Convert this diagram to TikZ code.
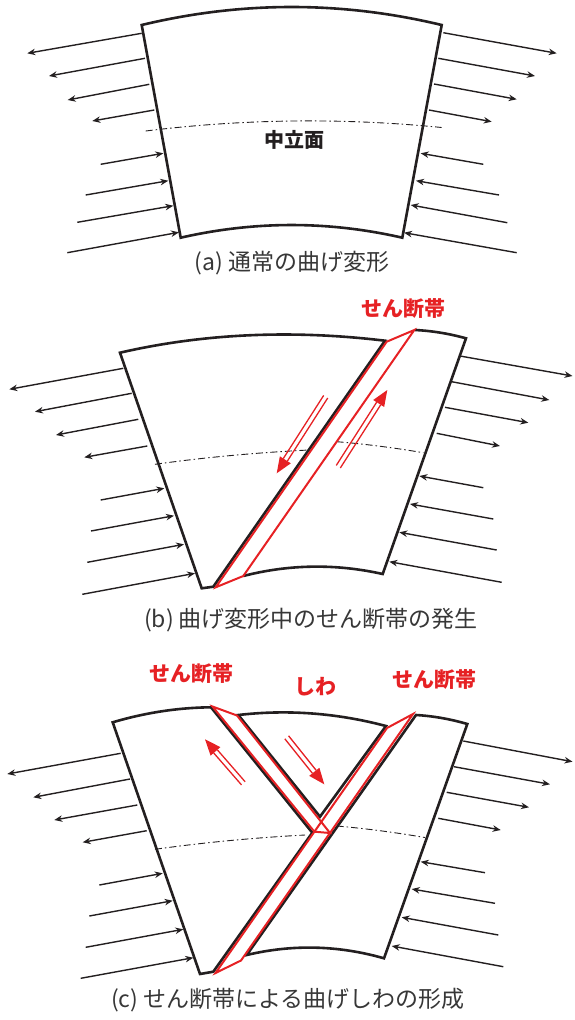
\documentclass[tikz,border=0pt]{standalone}
\usepackage{fontspec}
\setmainfont{Noto Sans CJK JP}
\usetikzlibrary{arrows.meta,calc}
\definecolor{inkblack}{RGB}{35,31,32}
\definecolor{bandred}{RGB}{230,33,36}
\definecolor{captiongray}{RGB}{55,55,55}

\tikzset{
  outline/.style={draw=inkblack, line width=2.6pt, line join=miter},
  force/.style={draw=inkblack, line width=1.4pt, -{Stealth[length=8pt,width=6.5pt]}},
  neutral/.style={draw=inkblack, line width=0.9pt, dash pattern=on 7pt off 3pt on 1.5pt off 3pt},
  band/.style={draw=bandred, line width=2pt, line join=miter},
  redlabel/.style={text=bandred, inner sep=0pt, font=\fontsize{21}{21}\selectfont\bfseries},
  planelabel/.style={text=inkblack, inner sep=0pt, font=\fontsize{20}{20}\selectfont\bfseries},
  caption/.style={text=captiongray, inner sep=0pt, font=\fontsize{23}{23}\selectfont},
}

% slip arrow: double red shaft with a filled head; #1 = tail, #2 = tip
\newcommand\slipArrow[2]{%
  \coordinate (sa-base) at ($(#2)!16pt!(#1)$);
  \fill[bandred] (#2) -- ($(sa-base)!6.5pt!90:(#2)$) -- ($(sa-base)!6.5pt!-90:(#2)$) -- cycle;
  \draw[bandred, line width=1.3pt] ($(#1)!2.4pt!90:(#2)$) -- ($(sa-base)!2.4pt!-90:(#1)$);
  \draw[bandred, line width=1.3pt] ($(#1)!2.4pt!-90:(#2)$) -- ($(sa-base)!2.4pt!90:(#1)$);
}

\begin{document}
\begin{tikzpicture}[x=1pt,y=-1pt]
\useasboundingbox (0,0) rectangle (574,1020);

% ---------------- (a) ordinary bending ----------------
\coordinate (a-tl) at (141.7,25);
\coordinate (a-tr) at (441.7,25);
\coordinate (a-br) at (402.3,237.7);
\coordinate (a-bl) at (180.7,237.7);
\draw[outline] (a-tl) .. controls (241.7,1) and (341.7,1) .. (a-tr)
  -- (a-br) .. controls (328.4,220.8) and (254.6,220.8) .. (a-bl) -- cycle;
\draw[neutral] (145.7,131) .. controls (244.4,118.8) and (343,117.7) .. (441.7,127.5);
\node[planelabel] (np) at (294,140) {中立面};

% tension (top) and compression (bottom), left side
\draw[force] (141.7,33.3) -- (27.3,53.3);
\draw[force] (145,58.3) -- (49,76);
\draw[force] (149.3,84.3) -- (67.7,100);
\draw[force] (154.3,110) -- (92.3,121);
\draw[force] (100.7,164.3) -- (163.3,153.3);
\draw[force] (85.7,195) -- (168.3,180.7);
\draw[force] (77.3,222.3) -- (173.3,205.7);
\draw[force] (67.3,252.7) -- (179,232.3);
% right side
\draw[force] (443.3,32.7) -- (556.7,53.3);
\draw[force] (438.3,58.3) -- (535,76);
\draw[force] (434,84) -- (516.7,99.3);
\draw[force] (429,110) -- (491.7,121.7);
\draw[force] (483.3,164.3) -- (420.7,153.3);
\draw[force] (499,195) -- (416,180.7);
\draw[force] (507.3,222.7) -- (410.7,205);
\draw[force] (516.7,252.7) -- (404,232.7);

\node[caption] (cap-a) at (291.7,263.5) {(a) 通常の曲げ変形};

% ---------------- (b) shear band forming ----------------
\draw[outline] (120,352.7) .. controls (203.3,333.5) and (291.7,329.5) .. (385,340.7)
  -- (213.3,586.7) -- (201.7,588.3) -- cycle;
\draw[outline] (415,330) .. controls (432,330.8) and (449,333.6) .. (466,338.3)
  -- (382.7,574) .. controls (336.5,563.7) and (289.9,564) .. (243.3,576);
\draw[neutral] (155,464.3) .. controls (204.3,457.4) and (255.5,452.7) .. (308.7,450);
\draw[neutral] (336.7,441.7) .. controls (364.2,443.9) and (393.1,447.6) .. (423.3,452.7);
\draw[band] (414.3,330) -- (386.7,341.7) -- (215.7,587.3) -- (243.3,576) -- cycle;

\coordinate (b-s1) at (325.7,396.7); \coordinate (b-t1) at (276.7,473.3);
\coordinate (b-s2) at (338.3,466.7); \coordinate (b-t2) at (387.3,390);
\slipArrow{b-s1}{b-t1}
\slipArrow{b-s2}{b-t2}

\draw[force] (123.3,368.3) -- (9.3,389.3);
\draw[force] (131.7,393.3) -- (35,411.7);
\draw[force] (138.3,419.3) -- (56,435);
\draw[force] (147.3,446) -- (84.3,457.3);
\draw[force] (100.7,500) -- (164.3,488.3);
\draw[force] (91,531) -- (174,515.7);
\draw[force] (87.3,562.3) -- (184,544.3);
\draw[force] (82.3,594.3) -- (195,573.3);
\draw[force] (460,356) -- (572.5,376);
\draw[force] (451.7,381.7) -- (549.3,400);
\draw[force] (445,407.3) -- (528.3,422.7);
\draw[force] (436.7,433.3) -- (500,446);
\draw[force] (483.3,487.7) -- (419.3,476);
\draw[force] (493.3,519) -- (410,504);
\draw[force] (496.7,550) -- (399.3,532.3);
\draw[force] (501.7,582.3) -- (389.3,561.7);

\node[redlabel] (lb-b) at (403,309) {せん断帯};
\node[caption] (cap-b) at (311,620) {(b) 曲げ変形中のせん断帯の発生};

% ---------------- (c) wrinkle from two shear bands ----------------
\draw[outline] (112.7,722.3) .. controls (145.5,712.6) and (178.2,707.6) .. (211,707.3)
  -- (312.3,832.7) -- (213.3,971.7) -- (200,974) -- cycle;
\draw[outline] (238.3,715) .. controls (287.6,709.3) and (336.8,713) .. (386,726)
  -- (320,816.7) -- cycle;
\draw[outline] (416,715) .. controls (433.1,716) and (450.2,719) .. (467.3,724)
  -- (384,958.3) .. controls (338.2,945.2) and (292.5,944.1) .. (246.7,955) -- cycle;
\draw[neutral] (155,849.3) .. controls (204.3,842.4) and (254.3,837.7) .. (305,835);
\draw[neutral] (336.7,826) .. controls (364.2,828.3) and (393.7,832.2) .. (425,837.5);
\draw[band] (413,714) -- (387,728) -- (215.5,973) -- (241,960.5) -- cycle;
\draw[band] (212.5,706.5) -- (237,715.5) -- (330,833) -- (314.4,831.7) -- cycle;

\coordinate (c-s1) at (243.3,783.3); \coordinate (c-t1) at (205,739.3);
\coordinate (c-s2) at (286.7,737.3); \coordinate (c-t2) at (324.3,784.3);
\slipArrow{c-s1}{c-t1}
\slipArrow{c-s2}{c-t2}

\draw[force] (120.7,753.3) -- (7.3,774);
\draw[force] (130,779) -- (33.3,797.3);
\draw[force] (137.3,805) -- (54.3,820);
\draw[force] (146.7,830.7) -- (82.7,842.3);
\draw[force] (99.3,885) -- (162.7,873.3);
\draw[force] (89.3,916) -- (172.7,900.7);
\draw[force] (85.7,947.3) -- (183.3,929.3);
\draw[force] (80.7,978.3) -- (193.3,957.7);
\draw[force] (463.3,741) -- (572.5,761.7);
\draw[force] (454,766.7) -- (550,784.3);
\draw[force] (446.7,792.3) -- (529,807.3);
\draw[force] (438.3,818.3) -- (500.7,830);
\draw[force] (485,872.7) -- (420.7,861.7);
\draw[force] (495,903.3) -- (411.7,889);
\draw[force] (498.3,935) -- (401.7,917.3);
\draw[force] (503.3,966.7) -- (391.7,946);

\node[redlabel] (lb-c1) at (191.7,674) {せん断帯};
\node[redlabel] (lb-c2) at (315,686.7) {しわ};
\node[redlabel] (lb-c3) at (434,680) {せん断帯};
\node[caption] (cap-c) at (288,1000) {(c) せん断帯による曲げしわの形成};
\end{tikzpicture}
\end{document}
